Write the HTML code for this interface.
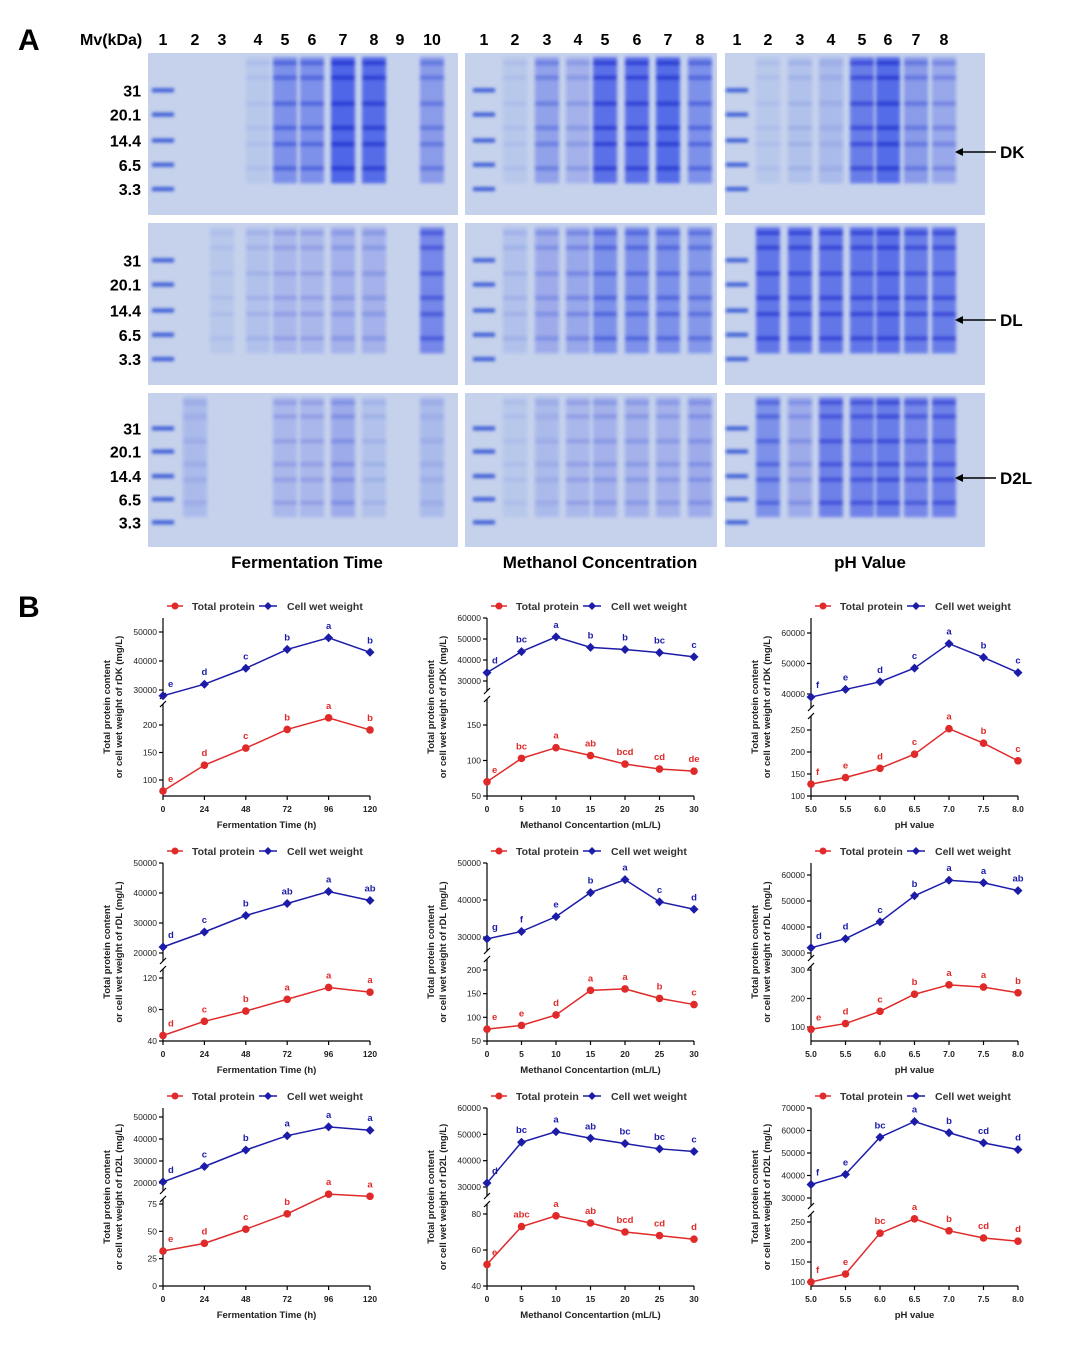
<!DOCTYPE html>
<html><head><meta charset="utf-8"><style>
body{margin:0;background:#fff;}
svg{display:block;font-family:"Liberation Sans",Arial,sans-serif;}
</style></head><body>
<svg id="fig" width="1080" height="1362" viewBox="0 0 1080 1362" xmlns="http://www.w3.org/2000/svg">
<defs><filter id="blur" x="-20%" y="-5%" width="140%" height="110%"><feGaussianBlur stdDeviation="1.6"/></filter></defs>
<g id="gels"></g>
<g id="charts"></g>
</svg>
<script>
// ---------- Gel data (lane intensity, -1 = ladder) ----------
const gelDkTime=[-1,0,0,0.1,0.6,0.6,1,0.95,0,0.5];
const gelDkMeth=[-1,0.1,0.45,0.3,0.9,0.9,0.95,0.6];
const gelDkPh=[-1,0.1,0.15,0.2,0.8,0.95,0.5,0.4];
const gelDlTime=[-1,0,0.1,0.15,0.25,0.25,0.3,0.3,0,0.7];
const gelDlMeth=[-1,0.15,0.35,0.4,0.6,0.6,0.6,0.55];
const gelDlPh=[-1,0.85,0.85,0.85,0.85,0.9,0.8,0.8];
const gelD2lTime=[-1,0.2,0,0,0.25,0.25,0.35,0.15,0,0.2];
const gelD2lMeth=[-1,0.1,0.2,0.25,0.3,0.3,0.3,0.35];
const gelD2lPh=[-1,0.6,0.35,0.75,0.75,0.8,0.7,0.75];

// ---------- Chart data ----------
const timeCats=[0,24,48,72,96,120];
const methCats=[0,5,10,15,20,25,30];
const phCats=["5.0","5.5","6.0","6.5","7.0","7.5","8.0"];

const dkTimeCell=[28000,32000,37500,44000,48000,43000];
const dkTimeProt=[80,127,158,192,213,191];
const dkTimeCellL=["e","d","c","b","a","b"];
const dkTimeProtL=["e","d","c","b","a","b"];

const dkMethCell=[34000,44000,51000,46000,45000,43500,41500];
const dkMethProt=[70,103,118,107,95,88,85];
const dkMethCellL=["d","bc","a","b","b","bc","c"];
const dkMethProtL=["e","bc","a","ab","bcd","cd","de"];

const dkPhCell=[39000,41500,44000,48500,56500,52000,47000];
const dkPhProt=[127,142,163,195,253,220,180];
const dkPhCellL=["f","e","d","c","a","b","c"];
const dkPhProtL=["f","e","d","c","a","b","c"];

const dlTimeCell=[22000,27000,32500,36500,40500,37500];
const dlTimeProt=[47,65,78,93,108,102];
const dlTimeCellL=["d","c","b","ab","a","ab"];
const dlTimeProtL=["d","c","b","a","a","a"];

const dlMethCell=[29500,31500,35500,42000,45500,39500,37500];
const dlMethProt=[75,83,105,157,160,140,127];
const dlMethCellL=["g","f","e","b","a","c","d"];
const dlMethProtL=["e","e","d","a","a","b","c"];

const dlPhCell=[32000,35500,42000,52000,58000,57000,54000];
const dlPhProt=[92,112,155,215,248,240,220];
const dlPhCellL=["d","d","c","b","a","a","ab"];
const dlPhProtL=["e","d","c","b","a","a","b"];

const d2lTimeCell=[20500,27500,35000,41500,45500,44000];
const d2lTimeProt=[32,39,52,66,84,82];
const d2lTimeCellL=["d","c","b","a","a","a"];
const d2lTimeProtL=["e","d","c","b","a","a"];

const d2lMethCell=[31500,47000,51000,48500,46500,44500,43500];
const d2lMethProt=[52,73,79,75,70,68,66];
const d2lMethCellL=["d","bc","a","ab","bc","bc","c"];
const d2lMethProtL=["e","abc","a","ab","bcd","cd","d"];

const d2lPhCell=[36000,40500,57000,64000,59000,54500,51500];
const d2lPhProt=[100,120,222,258,228,210,202];
const d2lPhCellL=["f","e","bc","a","b","cd","d"];
const d2lPhProtL=["f","e","bc","a","b","cd","d"];

const NS="http://www.w3.org/2000/svg";
function mk(tag,attrs,parent,text){const e=document.createElementNS(NS,tag);for(const k in attrs)e.setAttribute(k,attrs[k]);if(text!==undefined)e.textContent=text;parent.appendChild(e);return e;}

// ---------- Panel A ----------
const G=document.getElementById('gels');
const A=mk('text',{x:18,y:50,'font-size':30,'font-weight':'bold'},G,'A');


const mv=mk('text',{x:80,y:45,'font-size':16,'font-weight':'bold'},G,'Mv(kDa)');


const colX=[[148,458],[465,717],[725,985]];
const rowY=[[53,215],[223,385],[393,547]];
const laneX=[[163,195,222,258,285,312,343,374,400,432],[484,515,547,578,605,637,668,700],[737,768,800,831,862,888,916,944]];
const gels=[[gelDkTime,gelDkMeth,gelDkPh],[gelDlTime,gelDlMeth,gelDlPh],[gelD2lTime,gelD2lMeth,gelD2lPh]];
laneX.forEach((xs,c)=>xs.forEach((x,i)=>{const t=mk('text',{x:x,y:45,'font-size':16,'font-weight':'bold','text-anchor':'middle'},G,String(i+1));

}));
const mkLabels=["31","20.1","14.4","6.5","3.3"];
const mkRel=[0.23,0.38,0.54,0.69,0.84];
for(let r=0;r<3;r++){
  const [y0,y1]=rowY[r];const h=y1-y0;
  mkLabels.forEach((l,i)=>{const t=mk('text',{x:141,y:y0+mkRel[i]*h+6,'font-size':16,'font-weight':'bold','text-anchor':'end'},G,l);
  
  });
  for(let c=0;c<3;c++){
    const [x0,x1]=colX[c];
    const g=mk('g',{},G);
    
    
    mk('rect',{x:x0,y:y0,width:x1-x0,height:h,fill:'#c6d2ec'},g);
    const lg=mk('g',{filter:'url(#blur)'},g);
    gels[r][c].forEach((k,i)=>{
      const x=laneX[c][i];
      if(k<0){mkRel.forEach(p=>mk('rect',{x:x-11,y:y0+p*h-2,width:22,height:4,fill:'#3a5cd6'},lg));return;}
      if(k<=0)return;
      mk('rect',{x:x-12,y:y0+4,width:24,height:h*0.78,fill:'rgb(30,55,230)','fill-opacity':k*0.7},lg);
      [0.05,0.14,0.3,0.45,0.55,0.7].forEach(p=>mk('rect',{x:x-12,y:y0+p*h,width:24,height:4,fill:'rgb(20,40,200)','fill-opacity':Math.min(1,k*0.7)},lg));
    });
  }
}
[["DK",152],["DL",320],["D2L",478]].forEach(([n,y])=>{
  const g=mk('g',{},G);
  
  
  mk('line',{x1:958,y1:y,x2:996,y2:y,stroke:'#000','stroke-width':1.5},g);
  mk('path',{d:`M955 ${y} l8 -4 l0 8z`,fill:'#000'},g);
  mk('text',{x:1000,y:y+6,'font-size':17,'font-weight':'bold'},g,n);
});
[["Fermentation Time",307],["Methanol Concentration",600],["pH Value",870]].forEach(([t,x])=>{
  const e=mk('text',{x:x,y:568,'font-size':17,'font-weight':'bold','text-anchor':'middle'},G,t);
  
  
});

// ---------- Panel B ----------
const C=document.getElementById('charts');
const B=mk('text',{x:18,y:617,'font-size':30,'font-weight':'bold'},C,'B');


const RED='#e02a2a',BLUE='#1c1ca8';
const rows=[{top:618,axis:796},{top:863,axis:1041},{top:1108,axis:1286}];
const cols=[163,487,811];
const xTitles=["Fermentation Time (h)","Methanol Concentartion  (mL/L)","pH value"];
const cfgs=[
 {r:0,c:0,cats:timeCats,cell:dkTimeCell,prot:dkTimeProt,cl:dkTimeCellL,pl:dkTimeProtL,tr:[50000,632,30000,690],tt:[30000,40000,50000],br:[200,725,100,780],bt:[100,150,200],brk:700,n:"rDK"},
 {r:0,c:1,cats:methCats,cell:dkMethCell,prot:dkMethProt,cl:dkMethCellL,pl:dkMethProtL,tr:[60000,618,30000,681],tt:[30000,40000,50000,60000],br:[150,725,50,796],bt:[50,100,150],brk:695,n:"rDK"},
 {r:0,c:2,cats:phCats,cell:dkPhCell,prot:dkPhProt,cl:dkPhCellL,pl:dkPhProtL,tr:[60000,633,40000,694],tt:[40000,50000,60000],br:[250,730,100,796],bt:[100,150,200,250],brk:712,n:"rDK"},
 {r:1,c:0,cats:timeCats,cell:dlTimeCell,prot:dlTimeProt,cl:dlTimeCellL,pl:dlTimeProtL,tr:[50000,863,20000,953],tt:[20000,30000,40000,50000],br:[120,978,40,1041],bt:[40,80,120],brk:965,n:"rDL"},
 {r:1,c:1,cats:methCats,cell:dlMethCell,prot:dlMethProt,cl:dlMethCellL,pl:dlMethProtL,tr:[50000,863,30000,937],tt:[30000,40000,50000],br:[200,970,50,1041],bt:[50,100,150,200],brk:955,n:"rDL"},
 {r:1,c:2,cats:phCats,cell:dlPhCell,prot:dlPhProt,cl:dlPhCellL,pl:dlPhProtL,tr:[60000,875,30000,953],tt:[30000,40000,50000,60000],br:[300,970,100,1027],bt:[100,200,300],brk:962,n:"rDL"},
 {r:2,c:0,cats:timeCats,cell:d2lTimeCell,prot:d2lTimeProt,cl:d2lTimeCellL,pl:d2lTimeProtL,tr:[50000,1117,20000,1183],tt:[20000,30000,40000,50000],br:[75,1204,0,1286],bt:[0,25,50,75],brk:1195,n:"rD2L"},
 {r:2,c:1,cats:methCats,cell:d2lMethCell,prot:d2lMethProt,cl:d2lMethCellL,pl:d2lMethProtL,tr:[60000,1108,30000,1187],tt:[30000,40000,50000,60000],br:[80,1214,40,1286],bt:[40,60,80],brk:1200,n:"rD2L"},
 {r:2,c:2,cats:phCats,cell:d2lPhCell,prot:d2lPhProt,cl:d2lPhCellL,pl:d2lPhProtL,tr:[70000,1108,30000,1198],tt:[30000,40000,50000,60000,70000],br:[250,1222,100,1282],bt:[100,150,200,250],brk:1210,n:"rD2L"}
];
function lin(ref){const [v1,p1,v2,p2]=ref;return v=>p1+(v-v1)*(p2-p1)/(v2-v1);}
cfgs.forEach((cf,ci)=>{
  const L=cols[cf.c],R=L+207,row=rows[cf.r],top=row.top,ax=row.axis;
  const g=mk('g',{},C);
  
  
  const xs=i=>L+i*(R-L)/(cf.cats.length-1);
  const yT=lin(cf.tr),yB=lin(cf.br);
  const lg=mk('g',{},g);
  
  
  const ly=top-12;
  mk('line',{x1:L+4,y1:ly,x2:L+20,y2:ly,stroke:RED,'stroke-width':1.5},lg);
  mk('circle',{cx:L+12,cy:ly,r:3.5,fill:RED},lg);
  mk('text',{x:L+29,y:ly+4,'font-size':10.5,'font-weight':'bold',fill:'#333'},lg,'Total protein');
  mk('line',{x1:L+96,y1:ly,x2:L+114,y2:ly,stroke:BLUE,'stroke-width':1.5},lg);
  mk('path',{d:`M${L+105} ${ly-4} l4 4 l-4 4 l-4 -4z`,fill:BLUE},lg);
  mk('text',{x:L+124,y:ly+4,'font-size':10.5,'font-weight':'bold',fill:'#333'},lg,'Cell wet weight');
  const axg=mk('g',{stroke:'#000','stroke-width':1.2,fill:'none'},g);
  
  
  mk('line',{x1:L,y1:top,x2:L,y2:cf.brk-4},axg);
  mk('line',{x1:L,y1:cf.brk+4,x2:L,y2:ax},axg);
  mk('line',{x1:L-3,y1:cf.brk-1,x2:L+3,y2:cf.brk-7},axg);
  mk('line',{x1:L-3,y1:cf.brk+7,x2:L+3,y2:cf.brk+1},axg);
  mk('line',{x1:L,y1:ax,x2:R,y2:ax},axg);
  cf.tt.forEach(v=>{const y=yT(v);mk('line',{x1:L-4,y1:y,x2:L,y2:y},axg);
    const t=mk('text',{x:L-6,y:y+3,'font-size':8.5,'text-anchor':'end',fill:'#222',stroke:'none'},g,String(v));
    
    });
  cf.bt.forEach(v=>{const y=yB(v);mk('line',{x1:L-4,y1:y,x2:L,y2:y},axg);
    const t=mk('text',{x:L-6,y:y+3,'font-size':8.5,'text-anchor':'end',fill:'#222',stroke:'none'},g,String(v));
    
    });
  cf.cats.forEach((v,i)=>{const x=xs(i);mk('line',{x1:x,y1:ax,x2:x,y2:ax+4},axg);
    const t=mk('text',{x:x,y:ax+16,'font-size':8.5,'text-anchor':'middle','font-weight':'bold',fill:'#222'},g,String(v));
    
    });
  const xt=mk('text',{x:(L+R)/2,y:ax+32,'font-size':9.5,'font-weight':'bold','text-anchor':'middle',fill:'#222'},g,xTitles[cf.c]);
  
  
  const cy=(top+ax)/2;
  const yt=mk('text',{transform:`translate(${L-53},${cy}) rotate(-90)`,'font-size':9.5,'font-weight':'bold','text-anchor':'middle',fill:'#222'},g);
  
  
  mk('tspan',{x:0,y:0},yt,'Total protein content');
  mk('tspan',{x:0,y:12},yt,'or cell wet weight of '+cf.n+' (mg/L)');
  const series=[[cf.cell,yT,BLUE,cf.cl,'cell-wet-weight'],[cf.prot,yB,RED,cf.pl,'total-protein']];
  series.forEach(([vals,sc,col,lets,nm])=>{
    const sg=mk('g',{},g);
    
    
    mk('polyline',{points:vals.map((v,i)=>xs(i)+','+sc(v)).join(' '),fill:'none',stroke:col,'stroke-width':1.5},sg);
    vals.forEach((v,i)=>{
      const x=xs(i),y=sc(v);
      let m;
      if(col===RED) m=mk('circle',{cx:x,cy:y,r:3.8,fill:col},sg);
      else m=mk('path',{d:`M${x} ${y-4.5} l4.5 4.5 l-4.5 4.5 l-4.5 -4.5z`,fill:col},sg);
      
      
      const t=mk('text',{x:x+(i===0?5:0),y:y-9,'font-size':9.5,'font-weight':'bold','text-anchor':i===0?'start':'middle',fill:col},sg,lets[i]);
      
      
    });
  });
});
</script>
</body></html>
